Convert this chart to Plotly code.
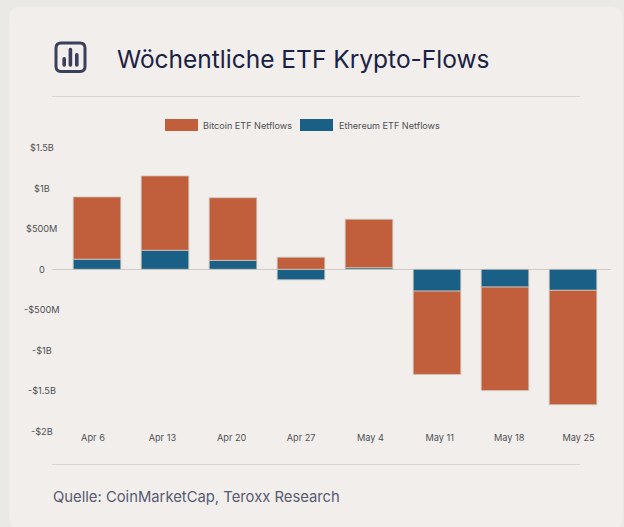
import plotly.graph_objects as go

W, H = 624, 527

weeks = ["Apr 6", "Apr 13", "Apr 20", "Apr 27", "May 4", "May 11", "May 18", "May 25"]
bitcoin = [0.77, 0.92, 0.775, 0.15, 0.60, -1.03, -1.28, -1.415]
ethereum = [0.125, 0.235, 0.11, -0.13, 0.02, -0.27, -0.22, -0.26]
y_ticks = [1.5, 1.0, 0.5, 0, -0.5, -1.0, -1.5, -2.0]
y_labels = ["$1.5B", "$1B", "$500M", "0", "-$500M", "-$1B", "-$1.5B", "-$2B"]
title = "Wöchentliche ETF Krypto-Flows"
source = "Quelle: CoinMarketCap, Teroxx Research"
legend_names = ["Bitcoin ETF Netflows", "Ethereum ETF Netflows"]

ORANGE, BLUE = "#C15F3C", "#1A5F85"
EDGE = "#CFC9C2"
INK = "#3A3F5C"
LABEL = "#505054"
FONT = "Inter"


def px(x):
    return x / W


def py(y):
    return 1 - y / H


def rounded(x0, y0, x1, y1, r):
    return (f"M{px(x0+r)},{py(y0)} L{px(x1-r)},{py(y0)} Q{px(x1)},{py(y0)} {px(x1)},{py(y0+r)} "
            f"L{px(x1)},{py(y1-r)} Q{px(x1)},{py(y1)} {px(x1-r)},{py(y1)} "
            f"L{px(x0+r)},{py(y1)} Q{px(x0)},{py(y1)} {px(x0)},{py(y1-r)} "
            f"L{px(x0)},{py(y0+r)} Q{px(x0)},{py(y0)} {px(x0+r)},{py(y0)} Z")


def hline(x0, x1, y, color, width=1, layer="below"):
    return dict(type="line", xref="paper", yref="paper", x0=px(x0), x1=px(x1), y0=py(y), y1=py(y),
                line=dict(color=color, width=width), layer=layer)


def box(x0, y0, x1, y1, color, r=0):
    if r:
        return dict(type="path", xref="paper", yref="paper", path=rounded(x0, y0, x1, y1, r),
                    fillcolor=color, line=dict(width=0), layer="above")
    return dict(type="rect", xref="paper", yref="paper", x0=px(x0), x1=px(x1), y0=py(y0), y1=py(y1),
                fillcolor=color, line=dict(width=0), layer="above")


fig = go.Figure()
fig.add_bar(x=weeks, y=ethereum, name=legend_names[1], marker=dict(color=BLUE, line=dict(color=EDGE, width=0.8)), width=0.7)
fig.add_bar(x=weeks, y=bitcoin, name=legend_names[0], marker=dict(color=ORANGE, line=dict(color=EDGE, width=0.8)), width=0.7)
# carries the category labels, which sit on a slightly wider spacing than the bars
fig.add_scatter(x=weeks, y=[0] * len(weeks), xaxis="x2", mode="markers", marker=dict(opacity=0), showlegend=False, hoverinfo="skip")

shapes = [
    dict(type="path", xref="paper", yref="paper", path=rounded(9, 6.5, 622.5, 529, 12),
         fillcolor="#F1EEEB", line=dict(width=0), layer="below"),
    hline(52, 580, 96.5, "#D9D4CD"),
    hline(52, 580, 464.5, "#D9D4CD"),
    hline(52, 611, 269.5, "#CFCBC6"),
    # header icon
    dict(type="path", xref="paper", yref="paper", path=rounded(56, 43, 85, 71.5, 5),
         fillcolor="rgba(0,0,0,0)", line=dict(color=INK, width=3), layer="above"),
    box(62.4, 57, 66, 66.7, INK, 1.7),
    box(68.6, 47.8, 72.2, 66.7, INK, 1.7),
    box(75, 53, 78.6, 66.7, INK, 1.7),
    # legend swatches
    box(165, 119, 198, 131, ORANGE),
    box(300, 119, 333, 131, BLUE),
]

anns = [
    dict(text=title, x=px(114.5), y=py(59), xref="paper", yref="paper", xanchor="left", yanchor="middle",
         showarrow=False, font=dict(family=FONT, size=24.5, color="#1B2142")),
    dict(text=source, x=px(51), y=py(497), xref="paper", yref="paper", xanchor="left", yanchor="middle",
         showarrow=False, font=dict(family=FONT, size=14.8, color="#585A72")),
    dict(text=legend_names[0], x=px(201), y=py(125), xref="paper", yref="paper", xanchor="left", yanchor="middle",
         showarrow=False, font=dict(family=FONT, size=9.1, color=LABEL)),
    dict(text=legend_names[1], x=px(336.5), y=py(125), xref="paper", yref="paper", xanchor="left", yanchor="middle",
         showarrow=False, font=dict(family=FONT, size=9.1, color=LABEL)),
]
for v, t in zip(y_ticks, y_labels):
    anns.append(dict(text=t, x=px(41.5), y=v, xref="paper", yref="y", xanchor="center", yanchor="middle",
                     showarrow=False, font=dict(family=FONT, size=9.2, color=LABEL)))

fig.update_layout(
    width=W, height=H, autosize=False,
    margin=dict(l=0, r=0, t=0, b=0),
    paper_bgcolor="#EBE9E5", plot_bgcolor="rgba(0,0,0,0)",
    barmode="relative", showlegend=False,
    shapes=shapes, annotations=anns,
    font=dict(family=FONT, size=9.2, color=LABEL),
    xaxis=dict(domain=[px(63), px(607)], type="category", categoryorder="array", categoryarray=weeks,
               range=[-0.5, 7.5], showticklabels=False, showgrid=False, zeroline=False, showline=False, ticks=""),
    xaxis2=dict(domain=[px(58.3), px(613.2)], type="category", categoryorder="array", categoryarray=weeks,
                range=[-0.5, 7.5], anchor="y", side="bottom", showgrid=False, zeroline=False, showline=False, ticks="",
                tickfont=dict(family=FONT, size=9.2, color=LABEL), tickangle=0),
    yaxis=dict(domain=[py(431), py(148)], range=[-2, 1.5], showticklabels=False, showgrid=False,
               zeroline=False, showline=False, ticks=""),
)

fig.write_html("out.html", config={"displayModeBar": False}, post_script="document.body.style.margin='0';")
